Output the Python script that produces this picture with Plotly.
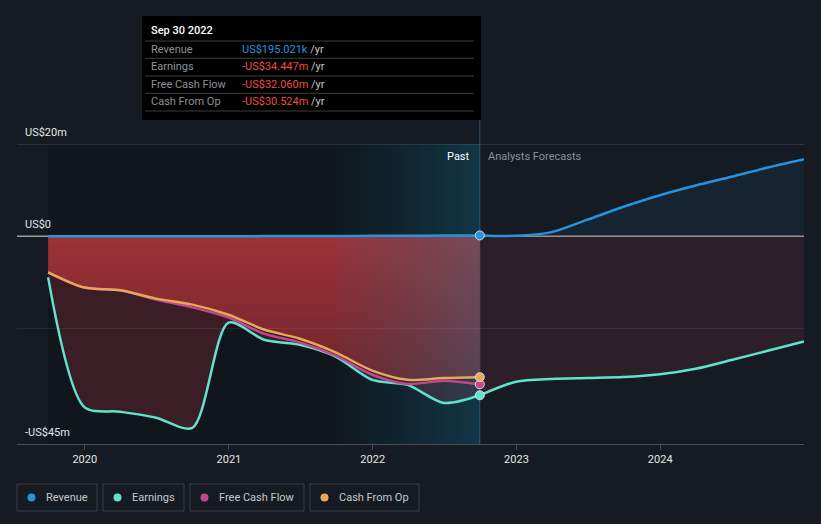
import plotly.graph_objects as go

# ---------------- data (US$ millions) ----------------
past_dates = ["2019-09-30", "2019-12-31", "2020-03-31", "2020-06-30", "2020-09-30",
              "2020-12-31", "2021-03-31", "2021-06-30", "2021-09-30", "2021-12-31",
              "2022-03-31", "2022-06-30", "2022-09-30"]
revenue_past = [0.0, 0.0, 0.0, 0.0, 0.0, 0.02, 0.04, 0.06, 0.08, 0.1, 0.13, 0.16, 0.195]
earnings_past = [-8.9, -37.0, -38.0, -39.3, -41.5, -18.7, -22.4, -23.5, -26.1, -31.1, -32.2, -36.1, -34.447]
fcf_past = [-7.8, -11.1, -11.7, -13.7, -15.4, -17.6, -21.1, -23.0, -25.9, -30.0, -32.0, -31.3, -32.06]
cfo_past = [-7.8, -11.1, -11.7, -13.5, -14.8, -17.0, -20.2, -22.2, -25.2, -29.1, -31.1, -30.7, -30.524]

fc_dates = ["2022-09-30", "2022-12-31", "2023-03-31", "2023-06-30", "2023-09-30",
            "2023-12-31", "2024-03-31", "2024-06-30", "2024-09-30", "2024-12-31"]
revenue_fc = [0.195, 0.1, 0.9, 3.6, 6.4, 8.9, 11.0, 12.9, 14.9, 16.7]
earnings_fc = [-34.447, -31.5, -30.9, -30.7, -30.5, -29.9, -28.7, -26.8, -24.8, -22.8]

x_tick_vals = ["2020-01-01", "2021-01-01", "2022-01-01", "2023-01-01", "2024-01-01"]
x_tick_text = ["2020", "2021", "2022", "2023", "2024"]
y_label_vals = [20, 0, -45]
y_label_text = ["US$20m", "US$0", "-US$45m"]
x_range = ["2019-07-13", "2024-12-31"]
y_range = [-45, 20]
band_start = "2021-09-30"

tooltip_title = "Sep 30 2022"
tooltip_labels = ["Revenue", "Earnings", "Free Cash Flow", "Cash From Op"]
tooltip_values = ["US$195.021k", "-US$34.447m", "-US$32.060m", "-US$30.524m"]

legend_names = ["Revenue", "Earnings", "Free Cash Flow", "Cash From Op"]

# ---------------- style ----------------
BG = "#151a23"
C_REV = "#2394df"
C_EARN = "#5fe3cf"
C_FCF = "#c2478f"
C_CFO = "#e8a857"
FONT = "Roboto"

W, H = 821, 524
ML, MR, MT, MB = 17, 17, 144, 80
PW, PH = W - ML - MR, H - MT - MB


def px(x):
    return (x - ML) / PW


def py(y):
    return (H - MB - y) / PH


fig = go.Figure()

# fills
fig.add_trace(go.Scatter(x=past_dates, y=earnings_past, fill="tozeroy", mode="lines",
                         line=dict(width=0, shape="spline", smoothing=0.8),
                         fillcolor="rgba(120,40,52,0.42)", hoverinfo="skip", showlegend=False))
fig.add_trace(go.Scatter(x=fc_dates, y=earnings_fc, fill="tozeroy", mode="lines",
                         line=dict(width=0, shape="spline", smoothing=0.8),
                         fillcolor="rgba(140,55,70,0.2)", hoverinfo="skip", showlegend=False))
fig.add_trace(go.Scatter(x=fc_dates, y=revenue_fc, fill="tozeroy", mode="lines",
                         line=dict(width=0, shape="spline", smoothing=0.8),
                         fillcolor="rgba(35,148,223,0.08)", hoverinfo="skip", showlegend=False))
fig.add_trace(go.Scatter(x=past_dates, y=cfo_past, fill="tozeroy", mode="lines",
                         line=dict(width=0, shape="spline", smoothing=0.8),
                         fillgradient=dict(type="vertical", start=-32, stop=0,
                                           colorscale=[[0, "rgb(112,36,44)"], [1, "rgb(155,50,55)"]]),
                         hoverinfo="skip", showlegend=False))

# highlighted last-year band
fig.add_trace(go.Scatter(x=[band_start, band_start, past_dates[-1], past_dates[-1], band_start],
                         y=[y_range[0], y_range[1], y_range[1], y_range[0], y_range[0]],
                         fill="toself", mode="lines", line=dict(width=0),
                         fillgradient=dict(type="horizontal",
                                           colorscale=[[0, "rgba(0,120,150,0.03)"],
                                                       [1, "rgba(20,140,180,0.28)"]]),
                         hoverinfo="skip", showlegend=False))

# lines
def line(x, y, c):
    fig.add_trace(go.Scatter(x=x, y=y, mode="lines",
                             line=dict(color=c, width=2.5, shape="spline", smoothing=0.8),
                             hoverinfo="skip", showlegend=False))

line(past_dates, earnings_past, C_EARN)
line(fc_dates, earnings_fc, C_EARN)
line(past_dates, fcf_past, C_FCF)
line(past_dates, cfo_past, C_CFO)
line(past_dates, revenue_past, C_REV)
line(fc_dates, revenue_fc, C_REV)

# end markers
fig.add_trace(go.Scatter(
    x=[past_dates[-1]] * 4,
    y=[revenue_past[-1], earnings_past[-1], fcf_past[-1], cfo_past[-1]],
    mode="markers",
    marker=dict(size=9, color=[C_REV, C_EARN, C_FCF, C_CFO],
                line=dict(color="rgba(230,230,230,0.9)", width=1)),
    hoverinfo="skip", showlegend=False))

shapes = []
# darker past background
shapes.append(dict(type="rect", xref="x", yref="paper", x0=past_dates[0], x1=past_dates[-1],
                   y0=0, y1=1, fillcolor="rgba(0,0,0,0.18)", line=dict(width=0), layer="below"))
# gridlines
shapes.append(dict(type="line", xref="paper", yref="y", x0=0, x1=1, y0=20, y1=20,
                   line=dict(color="rgba(255,255,255,0.22)", width=1), layer="below"))
shapes.append(dict(type="line", xref="paper", yref="y", x0=0, x1=1, y0=-20, y1=-20,
                   line=dict(color="rgba(255,255,255,0.07)", width=1), layer="above"))
shapes.append(dict(type="line", xref="paper", yref="y", x0=0, x1=1, y0=0, y1=0,
                   line=dict(color="rgba(200,200,200,0.75)", width=1.5), layer="below"))
# past/forecast divider
shapes.append(dict(type="line", xref="x", yref="paper", x0=past_dates[-1], x1=past_dates[-1],
                   y0=0, y1=py(120), line=dict(color="rgba(60,130,160,0.55)", width=1), layer="below"))

# tooltip box
shapes.append(dict(type="rect", xref="paper", yref="paper", x0=px(142), x1=px(481),
                   y0=py(120), y1=py(16), fillcolor="#000000", line=dict(width=0), layer="above"))
for sy in [41, 58.3, 76, 93.3, 111]:
    shapes.append(dict(type="line", xref="paper", yref="paper", x0=px(145), x1=px(474),
                       y0=py(sy), y1=py(sy), line=dict(color="#3c3c3c", width=1), layer="above"))

annotations = []
annotations.append(dict(xref="paper", yref="paper", x=px(149), y=py(31), xanchor="left",
                        yanchor="middle", text=tooltip_title, showarrow=False,
                        font=dict(family=FONT, size=11, color="#ffffff", weight=500)))
row_y = [49.3, 66.7, 84.3, 101.7]
val_colors = [C_REV, "#f04a46", "#f04a46", "#f04a46"]
for lab, val, vc, ry in zip(tooltip_labels, tooltip_values, val_colors, row_y):
    annotations.append(dict(xref="paper", yref="paper", x=px(149), y=py(ry), xanchor="left",
                            yanchor="middle", text=lab, showarrow=False,
                            font=dict(family=FONT, size=11, color="#8e9196")))
    annotations.append(dict(xref="paper", yref="paper", x=px(240), y=py(ry), xanchor="left",
                            yanchor="middle",
                            text=f'<span style="color:{vc}">{val}</span> /yr', showarrow=False,
                            font=dict(family=FONT, size=11, color="#c8c8c8")))

# y labels
for v, t in zip(y_label_vals, y_label_text):
    annotations.append(dict(xref="paper", yref="y", x=px(23), y=v, xanchor="left",
                            yanchor="bottom", yshift=3, text=t, showarrow=False,
                            font=dict(family=FONT, size=11, color="#e6e6e6")))

# Past / Analysts Forecasts
annotations.append(dict(xref="x", yref="paper", x=past_dates[-1], y=py(156), xanchor="right",
                        xshift=-8, yanchor="middle", text="Past", showarrow=False,
                        font=dict(family=FONT, size=11, color="#ffffff")))
annotations.append(dict(xref="x", yref="paper", x=past_dates[-1], y=py(156), xanchor="left",
                        xshift=6, yanchor="middle", text="Analysts Forecasts", showarrow=False,
                        font=dict(family=FONT, size=11, color="#8e9196")))

# legend boxes
leg_boxes = [(17, 97), (103, 184), (190, 304), (310, 419)]
leg_colors = [C_REV, C_EARN, C_FCF, C_CFO]
for (x0, x1), name, c in zip(leg_boxes, legend_names, leg_colors):
    shapes.append(dict(type="rect", xref="paper", yref="paper", x0=px(x0), x1=px(x1),
                       y0=py(511), y1=py(484), line=dict(color="rgba(255,255,255,0.16)", width=1),
                       fillcolor="rgba(0,0,0,0)", layer="above"))
    cx = x0 + 14.5
    shapes.append(dict(type="circle", xref="paper", yref="paper", x0=px(cx - 4), x1=px(cx + 4),
                       y0=py(501.5), y1=py(493.5), fillcolor=c, line=dict(width=0), layer="above"))
    annotations.append(dict(xref="paper", yref="paper", x=px(x0 + 27), y=py(497.5),
                            xanchor="left", yanchor="middle", text=name, showarrow=False,
                            font=dict(family=FONT, size=11, color="#c8c8c8")))

fig.update_layout(
    width=W, height=H,
    margin=dict(l=ML, r=MR, t=MT, b=MB),
    paper_bgcolor=BG, plot_bgcolor=BG,
    font=dict(family=FONT),
    showlegend=False,
    hovermode=False,
    shapes=shapes,
    annotations=annotations,
    xaxis=dict(type="date", range=x_range, tickvals=x_tick_vals, ticktext=x_tick_text,
               showgrid=False, zeroline=False, showline=True, linecolor="#4a4f58", linewidth=1,
               ticks="outside", ticklen=5, tickcolor="#4a4f58",
               tickfont=dict(family=FONT, size=11, color="#e6e6e6"), fixedrange=True),
    yaxis=dict(range=y_range, showgrid=False, zeroline=False, showticklabels=False,
               fixedrange=True),
)

fig.write_html("out.html", config={"displayModeBar": False},
               post_script="document.body.style.margin='0';document.body.style.background='" + BG + "';")
